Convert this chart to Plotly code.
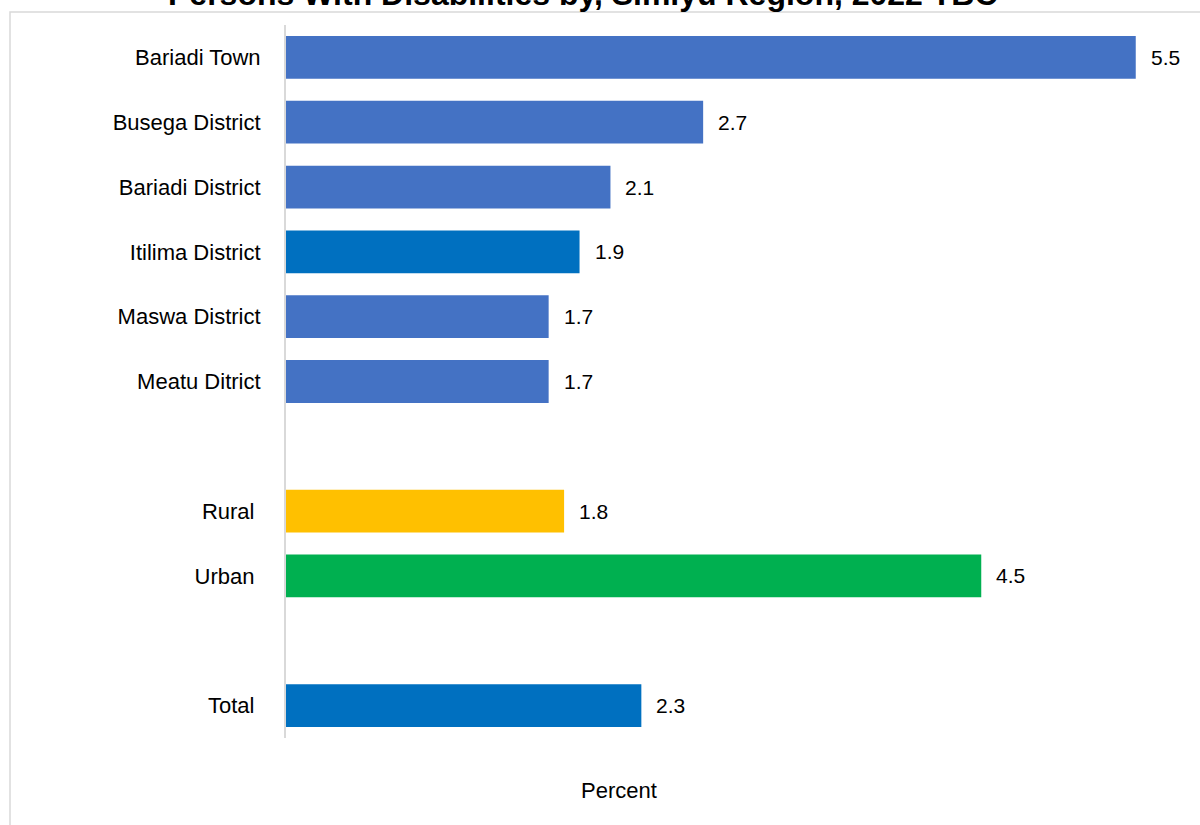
import plotly.graph_objects as go

categories = ["Bariadi Town", "Busega District", "Bariadi District", "Itilima District",
              "Maswa District", "Meatu Ditrict", "", "Rural\u00a0", "Urban\u00a0", "", "Total\u00a0"]
values = [5.5, 2.7, 2.1, 1.9, 1.7, 1.7, None, 1.8, 4.5, None, 2.3]
colors = ["#4472C4", "#4472C4", "#4472C4", "#0070C0", "#4472C4", "#4472C4", "#FFFFFF",
          "#FFC000", "#00B050", "#FFFFFF", "#0070C0"]
labels = ["5.5", "2.7", "2.1", "1.9", "1.7", "1.7", "", "1.8", "4.5", "", "2.3"]
title = "Persons With Disabilities by, Simiyu Region, 2022 TBC"

FONT = "Liberation Sans, Arial, sans-serif"
W, H = 1200, 825
# plot area in page pixels
PL, PR, PT, PB = 286, 1186, 25, 738
L, T = PL, PT
R, B = W - PR, H - PB
pw, ph = PR - PL, PB - PT
PX_PER_UNIT = 154.5
xmax = pw / PX_PER_UNIT


def paper_x(px):
    return (px - PL) / pw


def paper_y(py):
    return 1 - (py - PT) / ph


pos = list(range(len(categories)))
xs = [v if v is not None else 0 for v in values]

fig = go.Figure()
fig.add_trace(go.Bar(
    x=xs, y=pos, orientation="h", marker=dict(color=colors, line=dict(width=0)),
    width=0.66, hoverinfo="skip", showlegend=False,
))

for p, v, t in zip(pos, values, labels):
    if v is None:
        continue
    fig.add_annotation(x=v, y=p, text=t, showarrow=False, xanchor="left", yanchor="middle",
                       xshift=13, font=dict(family=FONT, size=21, color="#000000"))

fig.add_annotation(xref="paper", yref="paper", x=paper_x(583), y=paper_y(-5.5),
                   text="<b>" + title + "</b>", showarrow=False,
                   xanchor="center", yanchor="middle",
                   font=dict(family=FONT, size=32, color="#000000"))
fig.add_annotation(xref="paper", yref="paper", x=paper_x(619), y=paper_y(790),
                   text="Percent", showarrow=False, xanchor="center", yanchor="middle",
                   font=dict(family=FONT, size=22, color="#000000"))

# outer chart border
fig.add_shape(type="rect", xref="paper", yref="paper",
              x0=paper_x(10), x1=paper_x(1215), y0=paper_y(840), y1=paper_y(12),
              line=dict(color="#D9D9D9", width=1.5), fillcolor="rgba(0,0,0,0)", layer="below")

fig.update_layout(
    width=W, height=H, margin=dict(l=L, r=R, t=T, b=B, autoexpand=False),
    plot_bgcolor="white", paper_bgcolor="white",
    font=dict(family=FONT, size=22, color="#000000"),
    xaxis=dict(range=[0, xmax], showgrid=False, zeroline=False, showticklabels=False,
               showline=False, ticks=""),
    yaxis=dict(range=[len(categories) - 0.5, -0.5], tickmode="array", tickvals=pos,
               ticktext=categories, showgrid=False, zeroline=False, showline=True,
               linecolor="#D9D9D9", linewidth=2, ticks="", ticklabelstandoff=19,
               tickfont=dict(family=FONT, size=22, color="#000000")),
)

fig.write_html("out.html", config={"displayModeBar": False},
               post_script="document.body.style.margin='0';document.body.style.overflow='hidden';")
